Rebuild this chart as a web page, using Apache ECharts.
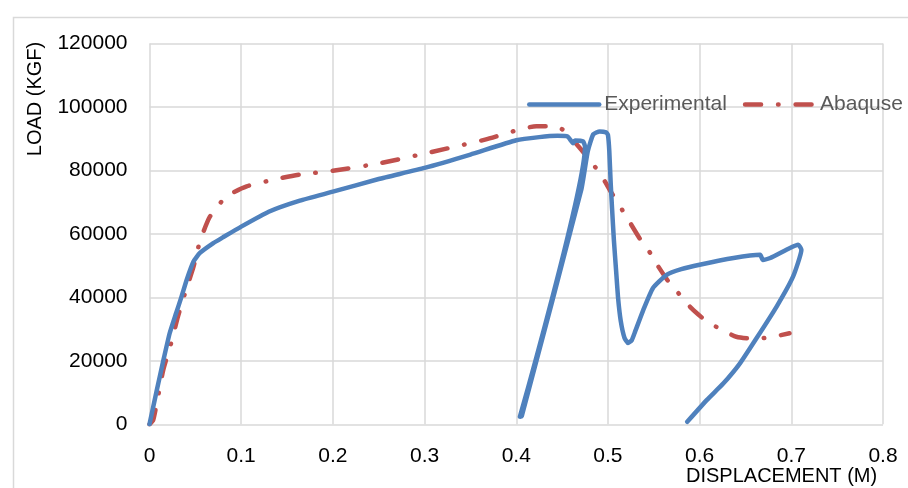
<!DOCTYPE html>
<html>
<head>
<meta charset="utf-8">
<script src="https://cdn.jsdelivr.net/npm/echarts@6/dist/echarts.min.js"></script>
<style>html,body{margin:0;padding:0;background:#fff;}#c{width:908px;height:488px;}</style>
</head>
<body>
<div id="c"></div>
<script>
const xTicks = [0, 0.1, 0.2, 0.3, 0.4, 0.5, 0.6, 0.7, 0.8];
const yTicks = [0, 20000, 40000, 60000, 80000, 100000, 120000];
const seriesNames = ['Experimental', 'Abaquse'];
const xTitle = 'DISPLACEMENT (M)';
const yTitle = 'LOAD (KGF)';

const expX = [0, 0.008, 0.015, 0.022, 0.029, 0.035, 0.0405, 0.048, 0.055, 0.0696, 0.08, 0.1, 0.13, 0.164, 0.2, 0.25, 0.3, 0.35, 0.4, 0.425, 0.445, 0.456, 0.462, 0.464, 0.473, 0.475, 0.404, 0.406, 0.471, 0.478, 0.484, 0.491, 0.498, 0.5, 0.5015, 0.503, 0.5045, 0.5065, 0.509, 0.511, 0.514, 0.518, 0.522, 0.526, 0.529, 0.5385, 0.549, 0.564, 0.58, 0.6, 0.637, 0.666, 0.669, 0.677, 0.698, 0.7075, 0.711, 0.702, 0.684, 0.662, 0.644, 0.626, 0.608, 0.5865];
const expY = [0, 10800, 20000, 28700, 35000, 40300, 45500, 51300, 54000, 57100, 58900, 62300, 67000, 70500, 73300, 77300, 80800, 85000, 89500, 90500, 90900, 90700, 88600, 89400, 89100, 87500, 2400, 2600, 74000, 86000, 91400, 92300, 92000, 91200, 86000, 76000, 68000, 58000, 48000, 40000, 32500, 27300, 25600, 26500, 28700, 36000, 42900, 47100, 48900, 50300, 52400, 53400, 51800, 52400, 55500, 56600, 55000, 46600, 37100, 27100, 19200, 12900, 7700, 800];

const abqX = [0, 0.004, 0.0096, 0.015, 0.0235, 0.031, 0.0387, 0.048, 0.055, 0.066, 0.084, 0.106, 0.139, 0.164, 0.2, 0.25, 0.3, 0.366, 0.422, 0.444, 0.455, 0.471, 0.491, 0.504, 0.52, 0.535, 0.5476, 0.555, 0.5665, 0.58, 0.591, 0.6065, 0.624, 0.64, 0.66, 0.68, 0.698];
const abqY = [0, 1300, 9200, 17100, 25500, 33900, 41300, 49700, 57600, 65500, 71800, 75000, 77300, 78700, 79900, 82200, 85300, 89700, 93900, 93900, 91800, 86500, 79200, 72900, 65500, 58400, 53400, 49700, 44800, 40300, 36600, 32700, 29800, 27600, 26900, 27600, 28700];

const pair = (xs, ys) => xs.map((x, i) => [x, ys[i]]);
const FONT = '"Liberation Sans", Arial, sans-serif';

const chart = echarts.init(document.getElementById('c'), null, {renderer: 'canvas'});
chart.setOption({
  animation: false,
  backgroundColor: '#fff',
  grid: {left: 149.5, top: 43.5, right: 25, bottom: 63.7, containLabel: false},
  legend: {
    left: 522, top: 89, width: 420,
    itemWidth: 70, itemHeight: 20, itemGap: 16,
    itemStyle: {opacity: 0},
    lineStyle: {width: 4.5},
    textStyle: {fontFamily: FONT, fontSize: 21, color: '#595959'},
    data: seriesNames
  },
  xAxis: {
    type: 'value', min: xTicks[0], max: xTicks[xTicks.length - 1], interval: 0.1,
    axisLine: {show: false}, axisTick: {show: false},
    splitLine: {show: true, lineStyle: {color: '#d9d9d9', width: 1.5}},
    axisLabel: {fontFamily: FONT, fontSize: 21, color: '#000', margin: 21,
      formatter: v => String(Math.round(v * 10) / 10)}
  },
  yAxis: {
    type: 'value', min: yTicks[0], max: yTicks[yTicks.length - 1], interval: 20000,
    axisLine: {show: false}, axisTick: {show: false},
    splitLine: {show: true, lineStyle: {color: '#d9d9d9', width: 1.5}},
    axisLabel: {fontFamily: FONT, fontSize: 21, color: '#000', margin: 22,
      formatter: v => String(v)}
  },
  graphic: [
    {type: 'rect', left: 11, top: 15, z: -10, silent: true,
      shape: {width: 1000, height: 1000}, style: {fill: 'none', stroke: '#d9d9d9', lineWidth: 1.5}},
    {type: 'text', left: 686, top: 466, style: {text: xTitle, font: '20px ' + FONT, fill: '#000'}},
    {type: 'text', x: 35, y: 99, rotation: Math.PI / 2,
      style: {text: yTitle, font: '20px ' + FONT, fill: '#000', align: 'center', verticalAlign: 'middle'}}
  ],
  series: [
    {name: seriesNames[0], type: 'line', symbol: 'none', smooth: 0.15, z: 3,
      data: pair(expX, expY),
      lineStyle: {color: '#4f81bd', width: 4.5, cap: 'round', join: 'round'},
      itemStyle: {color: '#4f81bd'}},
    {name: seriesNames[1], type: 'line', symbol: 'none', smooth: 0.2, z: 2,
      data: pair(abqX, abqY),
      lineStyle: {color: '#c0504d', width: 4.5, type: [16, 17, 0.5, 17], cap: 'round', join: 'round'},
      itemStyle: {color: '#c0504d'}}
  ]
});
</script>
</body>
</html>
